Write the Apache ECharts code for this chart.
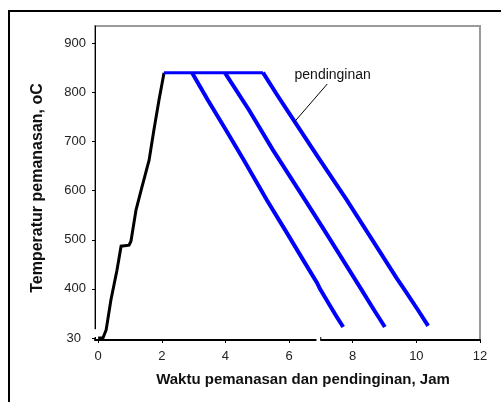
<!DOCTYPE html>
<html>
<head>
<meta charset="utf-8">
<script src="https://cdn.jsdelivr.net/npm/echarts@6/dist/echarts.min.js"></script>
<style>
  html, body { margin: 0; padding: 0; background: #fff; }
  #chart { width: 501px; height: 402px; }
</style>
</head>
<body>
<div id="chart"></div>
<script>
// Heat treatment cycle: heating (black), holding and three cooling runs (blue).
// Times in hours, temperatures in °C.
const heatTime = [0, 0.15, 0.25, 0.40, 0.59, 0.72, 0.97, 1.03, 1.19, 1.35, 1.60, 1.75, 1.91, 2.07];
const heatTemp = [30, 30, 91, 316, 438, 487, 489, 497, 561, 601, 662, 723, 784, 840];

const holdTime = [2.07, 5.18];
const holdTemp = [840, 840];

const cool1Time = [2.95, 3.45, 4.02, 4.58, 5.30, 5.93, 6.44, 6.88, 6.97, 7.31, 7.50, 7.70];
const cool1Temp = [840, 784, 723, 662, 581, 514, 459, 412, 400, 264, 189, 113];

const cool2Time = [3.98, 4.74, 5.49, 6.50, 7.10, 7.69, 8.26, 8.67, 9.01];
const cool2Temp = [840, 764, 683, 581, 520, 459, 400, 241, 113];

const cool3Time = [5.18, 5.62, 6.18, 6.91, 7.79, 8.82, 9.38, 9.61, 10.05, 10.37];
const cool3Temp = [840, 795, 740, 668, 583, 479, 422, 400, 241, 121];

const xTicks = [0, 2, 4, 6, 8, 10, 12];
const yTicks = [30, 400, 500, 600, 700, 800, 900];

// The temperature axis is broken: 30..400 °C is squeezed into one tick step.
const BREAK_LOW = 30, BREAK_HIGH = 400, BREAK_POS = 300;
function toAxis(t) {
  return t >= BREAK_HIGH ? t : BREAK_POS + (t - BREAK_LOW) * (BREAK_HIGH - BREAK_POS) / (BREAK_HIGH - BREAK_LOW);
}
function pairs(xs, ys) { return xs.map((x, i) => [x, toAxis(ys[i])]); }

const FONT = 'Liberation Sans, Arial, sans-serif';
const BLUE = '#0000ff';

const chart = echarts.init(document.getElementById('chart'), null, { renderer: 'canvas' });

const lineSeries = (name, data, color, width) => ({
  name, type: 'line', data, symbol: 'none', animation: false,
  lineStyle: { color, width, join: 'miter' }
});

const option = {
  animation: false,
  grid: {
    left: 95, right: 21, top: 26, bottom: 62,
    containLabel: false, outerBoundsMode: 'none',
    show: true, borderColor: '#9a9a9a', borderWidth: 2, backgroundColor: 'transparent'
  },
  xAxis: {
    type: 'value', min: -0.1, max: 12,
    axisLine: { onZero: false, lineStyle: { color: '#000', width: 2 } },
    axisTick: { show: true, customValues: xTicks, length: 3, lineStyle: { color: '#000', width: 1 } },
    axisLabel: { customValues: xTicks, fontSize: 13, fontFamily: FONT, color: '#222', margin: 10 },
    splitLine: { show: false }
  },
  yAxis: {
    type: 'value', min: 296, max: 935,
    axisLine: { show: true, onZero: false, lineStyle: { color: '#000', width: 1 } },
    axisTick: { show: true, customValues: yTicks.map(toAxis), length: 3, lineStyle: { color: '#000', width: 1 } },
    axisLabel: {
      customValues: yTicks.map(toAxis), fontSize: 13, fontFamily: FONT, color: '#222', margin: 9,
      formatter: v => v === BREAK_POS ? '{b|' + BREAK_LOW + '}' : String(v),
      rich: { b: { fontSize: 13, fontFamily: FONT, color: '#222', padding: [0, 5, 0, 0] } }
    },
    splitLine: { show: false }
  },
  series: [
    lineSeries('pemanasan', pairs(heatTime, heatTemp), '#000', 3),
    lineSeries('penahanan', pairs(holdTime, holdTemp), BLUE, 3),
    lineSeries('pendinginan 1', pairs(cool1Time, cool1Temp), BLUE, 4),
    lineSeries('pendinginan 2', pairs(cool2Time, cool2Temp), BLUE, 4),
    Object.assign(lineSeries('pendinginan 3', pairs(cool3Time, cool3Temp), BLUE, 4), {
      markLine: {
        silent: true, symbol: 'none', animation: false,
        label: { show: false },
        lineStyle: { color: '#000', width: 1, type: 'solid' },
        data: [[{ coord: [7.20, 817] }, { coord: [6.17, 740] }]]
      }
    })
  ]
};

chart.setOption(option);

// Decorations placed from the axis scales: breaks in both axes and the annotation text.
const rawPx = (x, v) => chart.convertToPixel({ gridIndex: 0 }, [x, v]);
const yBreakTop = rawPx(0, 318)[1];
const yBreakBottom = rawPx(0, 296)[1];
const axisX = 95;
const xGapL = rawPx(6.86, 300)[0];
const xGapR = rawPx(6.98, 300)[0];
const axisY = 340;
const note = rawPx(7.37, 835);

chart.setOption({
  graphic: [
    { type: 'rect', z: 1, silent: true,
      shape: { x: 9, y: 11, width: 700, height: 700 },
      style: { fill: 'none', stroke: '#000', lineWidth: 2 } },
    { type: 'rect', z: 1, silent: true,
      shape: { x: axisX - 1.5, y: yBreakTop, width: 3.5, height: yBreakBottom - yBreakTop - 3 },
      style: { fill: '#fff' } },
    { type: 'rect', z: 1, silent: true,
      shape: { x: xGapL, y: axisY - 2, width: xGapR - xGapL, height: 5 },
      style: { fill: '#fff' } },
    { type: 'line', z: 1, silent: true,
      shape: { x1: xGapR + 0.5, y1: axisY - 3, x2: xGapR + 0.5, y2: axisY },
      style: { stroke: '#000', lineWidth: 1 } },
    { type: 'text', z: 3, silent: true, x: note[0], y: note[1],
      style: { text: 'pendinginan', font: '14px ' + FONT, fill: '#111', align: 'center', verticalAlign: 'middle' } },
    { type: 'text', z: 3, silent: true, x: 303, y: 380,
      style: { text: 'Waktu pemanasan dan pendinginan, Jam', font: 'bold 15px ' + FONT, fill: '#111', align: 'center', verticalAlign: 'middle' } },
    { type: 'text', z: 3, silent: true, x: 38, y: 188, rotation: Math.PI / 2,
      style: { text: 'Temperatur pemanasan, oC', font: 'bold 16px ' + FONT, fill: '#111', align: 'center', verticalAlign: 'middle' } }
  ]
});
</script>
</body>
</html>
